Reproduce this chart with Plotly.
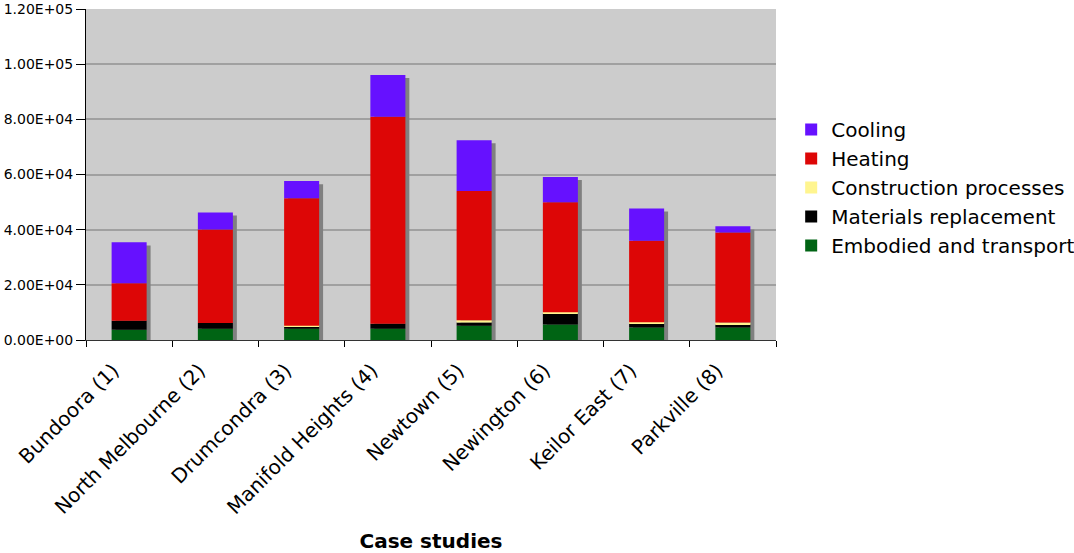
import numpy as np
import plotly.graph_objects as go

categories = ["Bundoora (1)", "North Melbourne (2)", "Drumcondra (3)",
              "Manifold Heights (4)", "Newtown (5)", "Newington (6)",
              "Keilor East (7)", "Parkville (8)"]

embodied = [3700, 4100, 4100, 4100, 5200, 5600, 4500, 4500]
materials = [3300, 2100, 730, 1800, 1100, 4100, 1550, 1100]
construction = [0, 0, 370, 0, 830, 370, 360, 700]
heating = [13600, 33900, 46200, 75000, 46900, 39900, 29600, 32700]
cooling = [14800, 6100, 6200, 15200, 18400, 9100, 11700, 2200]

series_names = ["Embodied and transport", "Materials replacement",
                "Construction processes", "Heating", "Cooling"]
series_values = [embodied, materials, construction, heating, cooling]
series_colors = ["#006414", "#000000", "#FFF58F", "#DD0606", "#6611FF"]

y_tickvals = [0, 20000, 40000, 60000, 80000, 100000, 120000]
y_ticktext = ["0.00E+00", "2.00E+04", "4.00E+04", "6.00E+04",
              "8.00E+04", "1.00E+05", "1.20E+05"]

BAR_W = 0.406
SHADOW_DX = 0.046
SHADOW_DY = 1100

fig = go.Figure()

totals = np.sum(np.array(series_values), axis=0)
fig.add_trace(go.Bar(
    x=categories, y=totals, base=-SHADOW_DY,
    width=BAR_W, offset=-BAR_W / 2 + SHADOW_DX,
    marker=dict(color="#808080", line=dict(width=0)),
    showlegend=False, hoverinfo="skip",
))

cum = np.zeros(len(categories))
n = len(series_names)
for i, (name, vals, col) in enumerate(zip(series_names, series_values, series_colors)):
    v = np.array(vals, dtype=float)
    fig.add_trace(go.Bar(
        x=categories, y=v, base=cum.copy(), name=name,
        width=BAR_W, offset=-BAR_W / 2,
        marker=dict(color=col, line=dict(width=0)),
        legendgroup=name, legendrank=n - i,
    ))
    cum = cum + v

fig.update_layout(
    width=1074, height=553,
    margin=dict(l=86, r=298, t=9, b=213, autoexpand=False),
    barmode="overlay",
    paper_bgcolor="white",
    plot_bgcolor="#CCCCCC",
    font=dict(family="DejaVu Sans", size=20, color="black"),
    legend=dict(
        x=1.022, xanchor="left", y=0.695, yanchor="top",
        traceorder="grouped", tracegroupgap=0,
        font=dict(size=20), bgcolor="rgba(0,0,0,0)",
    ),
    xaxis=dict(
        type="category", range=[-0.5, 7.5], automargin=False,
        tickangle=-45, tickson="boundaries", ticks="outside", ticklen=6,
        tickcolor="black", showline=True, linecolor="#333333", linewidth=1,
        showgrid=False, tickfont=dict(size=20),
        ticklabelshift=-16, ticklabelstandoff=10,
        title=dict(text="<b>Case studies</b>", font=dict(size=20), standoff=16),
    ),
    yaxis=dict(
        range=[0, 120000], tickvals=y_tickvals, ticktext=y_ticktext,
        automargin=False,
        ticks="outside", ticklen=9, tickcolor="black",
        showline=True, linecolor="black", linewidth=1,
        showgrid=True, gridcolor="#A0A0A0", gridwidth=1.5,
        zeroline=False, tickfont=dict(size=14),
    ),
)

fig.write_html(
    "out.html",
    config={"displayModeBar": False},
    post_script="document.body.style.margin='0';document.body.style.overflow='hidden';",
)
